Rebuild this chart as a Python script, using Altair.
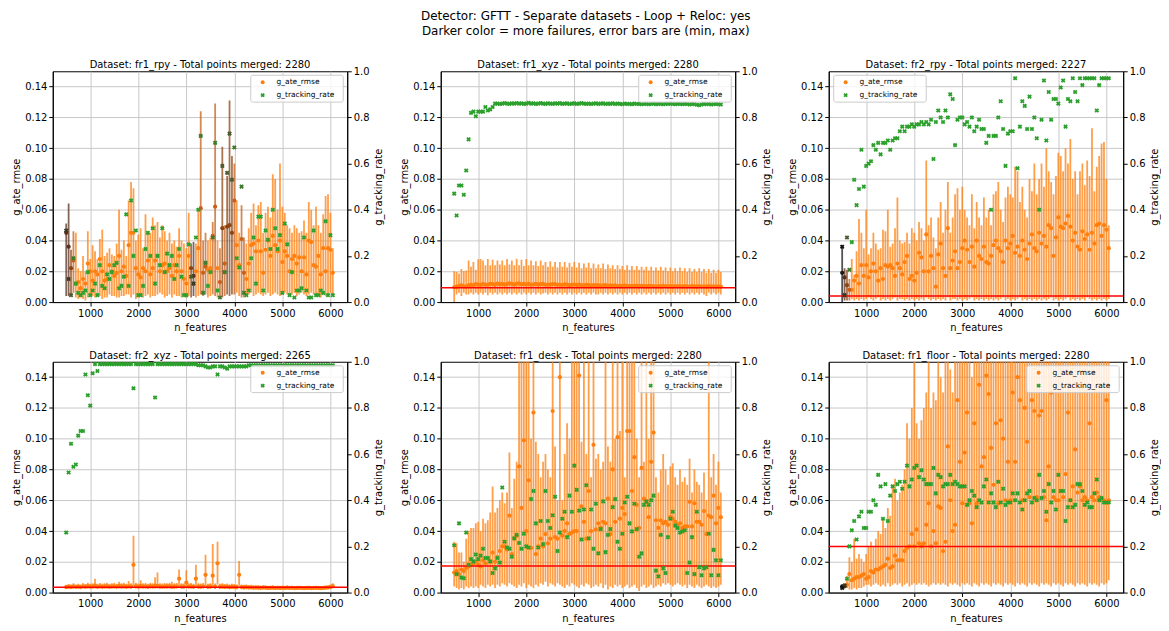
import altair as alt
import pandas as pd

# ---------------- data ----------------
N_FEATURES = list(range(500, 6051, 50))  # 112 n_features values

DATASETS = ["fr1_rpy", "fr1_xyz", "fr2_rpy", "fr2_xyz", "fr1_desk", "fr1_floor"]
TOTAL_POINTS = [2280, 2280, 2227, 2265, 2280, 2280]
REF_ATE = [None, 0.0093, 0.0039, 0.0035, 0.0172, 0.0300]
LEGEND_SIDE = ["right", "right", "left", "right", "right", "right"]

# ATE values in milli-units (x 0.001), tracking in percent
RPY1_MEAN = [45,36,22,27,12,13,9,15,12,25, 20,14,20,18,28,20,14,15,24,20,
             17,19,30,20,23,17,37,45,45,22, 18,16,22,20,27,18,22,27,30,20,
             24,25,20,22,17,24,20,30,20,15, 12,30,22,17,20,35,61,19,23,21,
             22,43,62,22,13,48,25,49,50,45, 66,37,24,41,19,15,25,37,38,33,
             40,33,19,34,40,30,43,37,33,40, 26,33,30,20,28,30,25,29,20,29,
             18,40,39,24,23,30,18,35,20,35, 34,19]
RPY1_LO = [4,4,5,6,3,2,3,2,1,3, 4,4,3,4,4,2,3,3,5,4, 4,3,3,4,4,5,5,3,5,2,
           3,4,3,4,5,3,4,4,5,6, 5,3,4,5,3,5,4,4,3,4, 3,4,3,4,3,4,5,4,5,3,
           4,5,4,3,3,3,4,5,4,5, 5,6,4,3,3,4,5,6,4,5, 6,5,4,5,6,4,5,6,5,4,
           5,6,5,4,5,6,4,5,6,5, 4,5,6,5,4,5,3,5,4,5, 6,5]
RPY1_HI = [51,64,34,46,45,22,20,30,20,46, 28,37,33,28,41,47,30,32,35,31,
           30,38,60,34,40,30,66,78,74,40, 44,48,35,57,46,45,55,50,52,42,
           50,46,40,45,38,40,36,48,40,38, 35,58,38,39,38,60,124,40,45,40,
           42,52,129,40,35,101,50,82,131,95, 90,66,45,63,42,38,48,58,64,50,
           63,65,45,58,62,55,83,80,60,90, 62,58,50,48,45,50,48,45,46,53,
           45,65,60,50,62,50,45,57,69,70, 58,35]
RPY1_TRK = [31,10,3,19,8,4,3,4,5,13, 3,5,8,3,16,7,6,12,10,13, 16,17,6,7,11,38,7,44,20,31,
            3,3,7,23,30,20,32,8,20,16, 32,13,21,16,20,10,16,23,11,3, 3,25,11,8,28,40,72,4,17,7,
            13,28,69,5,2,59,13,56,73,53, 67,19,15,50,4,3,5,19,28,8, 37,37,5,31,27,23,40,32,23,29,
            4,34,25,3,13,2,5,5,6,28, 5,2,2,31,3,3,5,4,35,3, 29,3]
RPY1_DARK = {0: 3, 1: 3, 2: 2, 3: 1, 52: 2, 53: 3, 56: 1, 57: 1, 58: 1, 61: 1, 62: 1,
             64: 1, 65: 2, 66: 1, 67: 2, 68: 2, 69: 2, 70: 1, 73: 1, 74: 1}

XYZ1_MEAN = [9.6,10.0,10.4,10.8,10.2,10.1,10.9,11.2,11.0,11.6, 11.3,11.1,11.8,11.2,11.4,11.9,11.7,11.3,12.0,11.5,
             11.9,11.4,11.6,12.1,11.8,11.3,11.9,12.2,11.5,11.9, 11.4,11.8,11.2,11.5,11.9,11.3,11.6,11.8,11.2,11.4,
             11.3,11.6,11.7,11.2,11.4,11.1,11.5,11.3,11.0,11.2, 11.4,11.1,11.3,11.0,10.8,11.2,11.0,10.7,11.1,10.9,
             11.0,10.6,10.9,11.0,10.5,10.8,10.6,10.9,10.4,10.6, 10.5,10.8,10.4,10.6,10.3,10.5,10.7,10.3,10.5,10.4,
             10.2,10.5,10.3,10.4,10.1,10.4,10.2,10.5,10.3,10.2, 10.4,10.1,10.3,10.2,10.4,10.0,10.3,10.2,10.1,10.3,
             10.2,10.0,10.3,10.1,10.2,10.0,10.3,10.1,10.2,10.0, 10.2,10.1]
XYZ1_LO = [0,5,6,4,6,5,5,6,5,6, 5,6,5,6,4.5,6,5,6,5,6, 5,6,5,6,5,6,5,6,5,6,
           5,6,5,6,5,6,5,5.5,6,5, 6,5,6,5,6,5,6,5,6,5, 6,5,6,5,6,5,6,5,6,5,
           5,6,5,6,5,6,5,6,5,6, 5,6,5,6,5,6,5,6,5,6, 5,6,5,6,5,6,5,6,5,6,
           5,6,5,6,5,6,5,6,5,6, 5,6,5,6,5,4,6,5,6,5, 6,5]
XYZ1_HI = [20,19.5,18.5,21.5,20,20.5,27,23,26,21, 27.8,28,27,24,28,24,27.5,24,27,24.5,
           27,24,28,24.5,27,24,28.2,24,27.5,23.5, 28,24,27,24,26.5,23.5,27,24,26,23,
           26.5,23,26,22.5,26,23,26,22.5,25.5,23, 26,22.5,25.5,22,25,22.5,25.5,22,25,22,
           24.5,22,25,21.5,24.5,22,24,21.5,24,21.5, 23.5,21,24,21,23.5,21,23.5,21,23,21,
           23,20.5,23,20.5,22.5,20.5,23,20.5,22.5,20, 22.5,20,22,20,22.5,20,22,19.5,22,19.5,
           21.5,19.5,22,19.5,21.5,19,21.5,19,21,19, 21,19.5]
XYZ1_TRK = [47,37.5,50.5,50.5,46.5,57,70.5,82,82.5,80.5, 82.5,82.5,82.5,84.5,83,83.5,84.5,86,86,85.8,
            86,86.2,86,85.9,86.1,86,86.2,86,86.1,85.9, 86,86.3,86,86.1,85.9,86,86.2,86,85.9,86.1,
            86,85.9,86.1,86,86.2,85.9,86,86.1,85.8,86, 86.1,85.9,86,86.2,86,85.9,86,85.8,86,86.1,
            85.9,86,86.1,85.8,86,85.9,86.1,85.8,86,85.9, 85.7,86,85.8,85.9,85.7,86,85.8,85.9,85.7,85.8,
            85.9,85.7,85.8,86,85.7,85.9,85.8,85.7,85.9,85.8, 86,85.8,85.7,85.9,85.8,85.7,85.9,85.8,85.6,85.8,
            85.7,85.5,85.3,85.6,85.8,85.7,85.8,85.6,85.7,85.8, 85.7,85.6]
XYZ1_DARK = {}

RPY2_MEAN = [19,16,11,8,8,14,17,12,24,17, 24,16,20,25,20,14,22,15,24,23,
             24,22,17,25,22,18,26,30,15,17, 14,19,32,29,20,44,20,30,22,10,
             31,38,22,17,48,22,27,33,22,26, 35,40,34,26,36,23,40,30,28,36,
             26,25,30,37,40,35,33,26,40,35, 38,43,32,36,30,40,34,28,38,44,
             35,33,45,38,43,36,50,48,30,42, 55,49,48,51,56,49,40,45,36,34,
             46,41,44,34,45,38,50,51,43,50, 47,35]
RPY2_LO = [0,1,1,1,2,1,2,1,2,1, 2,3,2,1,2,3,1,2,1,2, 1,2,3,1,2,2,1,2,1,2,
           1,2,1,2,1,3,2,1,2,1, 2,1,2,1,3,1,2,2,1,2, 1,2,1,2,3,1,2,1,2,1,
           2,1,2,1,2,1,2,3,1,2, 1,2,1,2,3,1,2,1,2,1, 2,1,2,1,2,1,2,3,1,2,
           1,2,1,2,3,1,2,1,2,1, 2,1,3,2,1,2,1,2,1,2, 1,2]
RPY2_HI = [36,22,21,15,28,18,33,54,45,35, 60,31,35,45,38,34,35,47,46,60,
           36,38,48,68,40,38,39,45,38,48, 45,40,52,48,40,92,50,55,42,35,
           55,65,45,60,78,45,55,70,74,60, 75,60,55,50,70,48,65,55,50,68,
           55,60,50,70,72,78,60,52,68,75, 70,68,88,85,65,75,60,55,80,72,
           90,70,80,90,75,100,85,78,70,82, 97,95,85,100,90,106,80,85,70,85,
           90,76,92,82,113,72,88,95,103,104, 80,50]
RPY2_TRK = [24,3,28,14,26,53,42,49,66,50, 59,60,61,68,66,69,64,69,69,70,
            66,70,71,71,74,76,74,76,76,77, 76,77,77,78,77,78,77,79,62,78,
            83,80,78,83,80,90,88,68,79,80, 80,77,78,76,80,74,76,79,75,75,
            69,72,40,72,72,80,87,75,59,73, 74,74,97,58,76,87,85,75,89,75,
            80,71,40,79,96,70,91,79,88,88, 86,93,96,76,88,87,97,91,87,97,
            94,97,97,97,97,97,83,94,97,97, 97,97]
RPY2_DARK = {0: 4, 1: 3, 2: 2, 3: 1}

XYZ2_MEAN = [3.5,3.8,3.6,4.0,3.7,3.9,3.6,4.1,3.8,4.2, 3.9,4.0,4.5,3.8,4.1,3.9,4.0,4.2,3.8,4.0,
             4.1,3.9,4.3,4.0,4.2,3.8,4.1,4.0,18.0,4.2, 3.9,4.3,4.0,4.1,3.8,4.2,4.0,4.5,4.3,4.0,
             3.9,4.1,4.0,4.2,3.8,4.0,4.1,9.0,4.0,3.9, 6.5,4.0,4.1,3.8,9.0,4.0,3.9,4.1,11.5,3.8,
             4.0,11.0,3.9,19.0,3.8,4.0,3.7,3.9,3.6,3.8, 3.7,3.5,11.5,3.6,3.4,3.5,3.3,3.4,3.2,3.3,
             3.2,3.1,3.3,3.2,3.0,3.1,3.2,3.0,3.1,3.0, 3.1,3.0,3.2,3.0,3.1,2.9,3.0,3.1,3.0,2.9,
             3.0,3.1,2.9,3.0,3.1,3.0,2.9,3.0,3.2,3.3, 3.5,4.2]
XYZ2_LO = [2.5,2.6,2.4,2.7,2.5,2.6,2.4,2.7,2.5,2.6, 2.5,2.7,2.6,2.5,2.7,2.4,2.6,2.7,2.5,2.6,
           2.7,2.5,2.6,2.4,2.7,2.5,2.6,2.5,4.0,2.6, 2.5,2.7,2.6,2.5,2.4,2.6,2.7,2.5,2.6,2.5,
           2.6,2.5,2.7,2.6,2.4,2.5,2.6,4.0,2.5,2.6, 3.5,2.6,2.5,2.4,3.0,2.6,2.5,2.6,4.0,2.5,
           2.6,4.0,2.5,5.0,2.4,2.5,2.3,2.4,2.2,2.3, 2.2,2.1,4.5,2.1,2.0,2.1,2.0,2.1,2.0,2.0,
           2.0,1.9,2.0,2.0,1.9,2.0,2.0,1.9,2.0,1.9, 2.0,1.9,2.0,1.9,2.0,1.9,2.0,1.9,2.0,1.9,
           2.0,1.9,2.0,1.9,2.0,1.9,2.0,1.9,2.0,2.1, 2.4,2.8]
XYZ2_HI = [5.0,5.5,5.2,6.0,5.3,5.8,5.2,6.2,5.6,6.3, 5.8,6.0,9.0,5.7,6.2,5.8,6.0,6.3,5.7,6.0,
           6.2,5.8,7.0,6.0,6.3,5.7,7.5,6.0,37.0,6.3, 5.9,8.0,6.0,6.2,5.7,6.3,6.0,10.0,13.0,6.0,
           5.9,6.2,6.0,6.3,7.0,6.0,6.2,15.0,6.0,5.9, 14.5,6.0,6.2,5.7,18.0,6.0,5.9,6.2,24.5,5.7,
           6.0,31.5,5.9,33.0,5.7,6.0,5.5,5.9,5.4,5.7, 5.5,5.2,20.5,5.3,5.0,5.2,4.9,5.0,4.7,4.8,
           4.7,4.5,4.8,4.6,4.3,4.5,4.6,4.3,4.5,4.3, 4.5,4.3,4.6,4.3,4.5,4.2,4.3,4.5,4.3,4.2,
           4.3,4.5,4.2,4.3,4.5,4.3,4.2,4.3,4.6,4.8, 5.2,6.0]
XYZ2_TRK = [26,52,64.5,54.5,55.5,68,70,70,94.5,85.5, 81,95,99,96,99,99,99,99,99,99,
            99,99,99,99,99,99,99,99,88.5,99, 99,99,99,99,99,99,99,84.5,99,99,
            99,99,99,99,99,99,99,99,99,99, 99,99,99,99,99,98.5,98.5,98.5,98,97.5,
            97.5,98,98,94.5,98,98,97.5,97,98,98, 98,98,98,98,98,98,98.5,98.5,98.5,98.5,
            98.5,98.5,98.5,98.5,98.5,98.5,98.5,98.5,98.5,98.5, 98.5,98.5,98.5,98.5,98.5,98.5,98.5,98.5,98.5,98.5,
            98.5,98.5,98.5,98.5,98.5,98.5,98.5,98.5,98.5,98.5, 98.5,98.5]
XYZ2_DARK = {}

DESK_MEAN = [13,14,12,15,14,16,17,18,19,20, 18,17,21,19,22,20,26,20,23,27,
             30,30,28,50,25,35,37,82,55,99, 40,73,29,117,25,30,35,30,38,32,
             35,118,36,35,140,37,40,45,38,39, 40,40,141,56,46,35,66,40,96,41,
             45,42,46,45,61,38,80,46,101,48, 55,51,105,105,66,88,57,42,81,61,
             59,49,85,104,47,42,47,45,46,44, 49,48,46,44,45,42,43,43,59,43,
             58,46,46,44,53,38,50,49,63,45, 55,49]
DESK_LO = [4,3,2,3,2,4,3,4,3,4, 3,5,4,3,5,4,5,3,5,4, 6,5,4,6,5,4,3,5,4,6,
           3,5,4,3,5,4,6,5,7,4, 6,5,4,6,5,4,3,5,4,6, 5,4,3,5,4,6,5,3,4,5,
           4,6,3,5,2,4,3,5,4,5, 3,4,5,3,4,5,3,1,4,5, 3,4,5,3,4,5,4,6,5,6,
           5,4,5,6,5,4,5,3,5,4, 3,5,4,3,4,5,4,3,4,3, 4,5]
DESK_HI = [33,32,26,26,20,35,40,42,42,45, 46,40,48,45,47,52,69,52,55,60,
           65,58,65,91,55,74,85,160,160,160, 160,160,100,160,98,90,75,85,90,80,
           75,160,95,60,160,60,90,110,100,160, 160,160,160,98,160,90,160,75,160,87,
           90,80,85,160,95,85,160,100,160,105, 160,75,160,160,160,160,100,75,160,85,
           160,100,160,160,75,65,80,90,80,70, 82,84,75,70,80,72,75,70,87,65,
           80,72,70,65,78,60,160,75,90,70, 85,65]
DESK_TRK = [20.5,8,30,6.5,6.2,26,12,14.5,13.5,16.5, 14.5,16,19,15,15,13.5,8.5,10.5,15,13,
            45.5,22,19.5,19,15.5,23.5,25,21.5,19,25.5, 20,19.5,40.5,44,30,19.5,31,21,44,31,
            28,33.5,41.5,18,26,32,35,24,42,35, 55,44.5,35.5,23,36,46.5,23.5,36,19,38.5,
            17,27.5,39.5,17.5,25,27.5,37,40.5,22,19, 25.5,39,41.5,30,26.5,38.5,27.5,15.5,17,38,
            39.5,38,40,42,9.5,7,25,10.5,8.5,24, 32,35,29,28,26,26.5,27,8.5,13,24,
            8,35,11,7.5,10.5,11,25.5,7.5,18.5,14, 7.5,14]
DESK_DARK = {}

FLOOR_MEAN = [4,4,5,12,8,9,10,10,11,12, 9,10,14,13,15,15,16,17,18,22,
              16,17,24,21,21,21,27,29,30,38, 30,41,32,30,32,44,58,30,40,32,
              56,55,27,33,95,60,40,44,125,85, 58,91,117,58,45,110,58,135,82,88,
              141,129,94,70,110,58,112,100,60,85, 60,130,85,140,125,60,120,98,62,125,
              118,62,115,118,62,47,82,130,62,60, 60,66,62,77,117,60,69,93,65,69,
              60,62,60,110,62,60,65,62,60,60, 125,60]
FLOOR_LO = [3,3,3,2,2,3,2,3,3,4, 5,5,4,5,6,5,4,5,4,6, 4,5,6,5,6,4,5,6,4,5,
            6,5,6,5,6,5,4,5,6,5, 6,5,6,5,4,6,5,6,5,4, 6,5,6,5,4,6,5,4,6,5,
            6,5,4,6,5,6,5,4,6,5, 6,5,4,6,5,6,5,4,6,5, 6,5,4,6,5,6,5,4,6,5,
            6,5,4,6,5,6,5,4,6,5, 6,5,4,6,5,6,5,4,6,5, 6,8]
FLOOR_HI = [5,6,11,23,20,35,22,25,22,20, 25,30,33,30,35,40,38,48,42,55,
            50,70,74,60,65,70,80,110,100,120, 160,110,100,112,120,130,160,120,130,125,
            160,140,130,160,160,145,130,150,160,160, 160,160,160,160,140,160,160,160,160,160,
            160,160,160,160,160,160,160,160,160,160, 160,160,160,160,160,160,160,160,160,160,
            160,160,160,160,160,160,160,160,160,160, 160,160,160,160,160,160,160,160,160,160,
            160,160,160,160,160,160,160,160,160,160, 160,160]
FLOOR_TRK = [2,3,6,20,27,31,23,33,35,28, 28,35,35,40,38,51,46,32,47,31,
             42,46,44,47,48,45,48,55,46,49, 54,55,50,53,49,47,47,47,54,43,
             51,50,46,47,47,51,47,48,47,46, 46,46,38,40,44,42,37,40,39,46,
             49,39,43,39,37,48,39,45,38,39, 39,43,40,43,39,36,40,43,44,39,
             41,40,51,41,44,35,47,39,44,36, 51,44,44,31,37,40,37,38,47,47,
             44,38,39,37,37,43,49,40,41,39, 39,39]
FLOOR_DARK = {0: 4, 1: 3}

PANEL_DATA = [
    (RPY1_MEAN, RPY1_LO, RPY1_HI, RPY1_TRK, RPY1_DARK),
    (XYZ1_MEAN, XYZ1_LO, XYZ1_HI, XYZ1_TRK, XYZ1_DARK),
    (RPY2_MEAN, RPY2_LO, RPY2_HI, RPY2_TRK, RPY2_DARK),
    (XYZ2_MEAN, XYZ2_LO, XYZ2_HI, XYZ2_TRK, XYZ2_DARK),
    (DESK_MEAN, DESK_LO, DESK_HI, DESK_TRK, DESK_DARK),
    (FLOOR_MEAN, FLOOR_LO, FLOOR_HI, FLOOR_TRK, FLOOR_DARK),
]

# ---------------- style ----------------
FONT = "DejaVu Sans"
ORANGE_SHADES = ["#ff7f0e", "#c8601a", "#8b4513", "#5a3020", "#1a1a1a"]
GREEN_SHADES = ["#2ca02c", "#3d7a2a", "#4a5a2a", "#3a3a22", "#111111"]
W, H = 296, 232
X_DOMAIN = [220, 6350]


def make_panel(k):
    mean, lo, hi, trk, dark = PANEL_DATA[k]
    levels = [dark.get(i, 0) for i in range(len(N_FEATURES))]
    df = pd.DataFrame({
        "x": N_FEATURES,
        "mean": [v / 1000 for v in mean],
        "lo": [v / 1000 for v in lo],
        "hi": [v / 1000 for v in hi],
        "trk": [v / 100 for v in trk],
        "dark": levels,
    })
    df["ocol"] = [ORANGE_SHADES[d] for d in df["dark"]]
    df["gcol"] = [GREEN_SHADES[d] for d in df["dark"]]
    df = df.sort_values("dark", kind="stable")

    base = alt.Chart(df)
    xenc = alt.X("x:Q", scale=alt.Scale(domain=X_DOMAIN, nice=False, zero=False),
                 axis=alt.Axis(values=[1000, 2000, 3000, 4000, 5000, 6000], format="d",
                               title="n_features", grid=True, titlePadding=5))
    yscale = alt.Scale(domain=[0, 0.15], nice=False, zero=True)
    yaxis = alt.Axis(values=[0, 0.02, 0.04, 0.06, 0.08, 0.10, 0.12, 0.14], format=".2f",
                     title="g_ate_rmse", grid=True, orient="left", titlePadding=3)

    bars = base.mark_rule(clip=True, strokeWidth=1.8, opacity=0.75).encode(
        x=xenc,
        y=alt.Y("lo:Q", scale=yscale, axis=yaxis),
        y2="hi:Q",
        color=alt.Color("ocol:N", scale=None),
    )
    pts = base.mark_circle(size=18, opacity=1, clip=True).encode(
        x=xenc,
        y=alt.Y("mean:Q", scale=yscale, axis=yaxis),
        color=alt.Color("ocol:N", scale=None),
    )
    left_layers = [bars, pts]
    if REF_ATE[k] is not None:
        ref = alt.Chart(pd.DataFrame({"ref": [REF_ATE[k]]})).mark_rule(
            color="#ff0000", strokeWidth=1.5).encode(
            y=alt.Y("ref:Q", scale=yscale, axis=yaxis))
        left_layers.append(ref)
    left = alt.layer(*left_layers)

    green = base.mark_point(shape="cross", angle=45, filled=True, size=22, opacity=1).encode(
        x=xenc,
        y=alt.Y("trk:Q", scale=alt.Scale(domain=[0, 1], nice=False),
                axis=alt.Axis(orient="right", values=[0, 0.2, 0.4, 0.6, 0.8, 1.0], format=".1f",
                              title="g_tracking_rate", grid=False, titleAngle=270,
                              titlePadding=15)),
        color=alt.Color("gcol:N", scale=None),
    )

    one = pd.DataFrame({"k": [0]})
    if LEGEND_SIDE[k] == "right":
        bx0, bx1 = W - 97, W - 4
    else:
        bx0, bx1 = 5, 98
    mx, tx = bx0 + 12, bx0 + 26
    box = alt.Chart(one).mark_rect(fill="white", fillOpacity=0.8, stroke="#cccccc",
                                   strokeWidth=1, cornerRadius=2).encode(
        x=alt.value(bx0), x2=alt.value(bx1), y=alt.value(4), y2=alt.value(31))
    lg_o = alt.Chart(one).mark_circle(size=16, color="#ff7f0e", opacity=1).encode(
        x=alt.value(mx), y=alt.value(11))
    lg_g = alt.Chart(one).mark_point(shape="cross", angle=45, filled=True, size=20,
                                     color="#2ca02c", opacity=1).encode(
        x=alt.value(mx), y=alt.value(24))
    lg_t1 = alt.Chart(one).mark_text(align="left", baseline="middle", fontSize=7.5,
                                     font=FONT, color="black").encode(
        x=alt.value(tx), y=alt.value(11), text=alt.value("g_ate_rmse"))
    lg_t2 = alt.Chart(one).mark_text(align="left", baseline="middle", fontSize=7.5,
                                     font=FONT, color="black").encode(
        x=alt.value(tx), y=alt.value(24), text=alt.value("g_tracking_rate"))

    return alt.layer(left, green, box, lg_o, lg_g, lg_t1, lg_t2).resolve_scale(
        y="independent").properties(
        width=W, height=H,
        title=alt.TitleParams(f"Dataset: {DATASETS[k]} - Total points merged: {TOTAL_POINTS[k]}",
                              fontSize=10, fontWeight="normal", font=FONT, anchor="middle",
                              frame="group", offset=-4, color="black"))


row1 = alt.hconcat(make_panel(0), make_panel(1), make_panel(2), spacing=14)
row2 = alt.hconcat(make_panel(3), make_panel(4), make_panel(5), spacing=14)

chart = alt.vconcat(row1, row2, spacing=16).properties(
    title=alt.TitleParams(
        ["Detector: GFTT - Separate datasets - Loop + Reloc: yes",
         "Darker color = more failures, error bars are (min, max)"],
        fontSize=12, fontWeight="normal", font=FONT, anchor="middle", color="black",
        lineHeight=15, offset=22),
    padding={"left": 3, "top": 0, "right": 0, "bottom": 0},
).configure_view(
    stroke="black", strokeWidth=1
).configure_axis(
    labelFont=FONT, titleFont=FONT, labelFontSize=10, titleFontSize=10,
    titleFontWeight="normal", labelColor="black", titleColor="black",
    domainColor="black", tickColor="black", tickSize=4, labelPadding=2,
    gridColor="#c8c8c8", gridWidth=1
)

chart.save("out.html", embed_options={"renderer": "svg", "actions": False})
